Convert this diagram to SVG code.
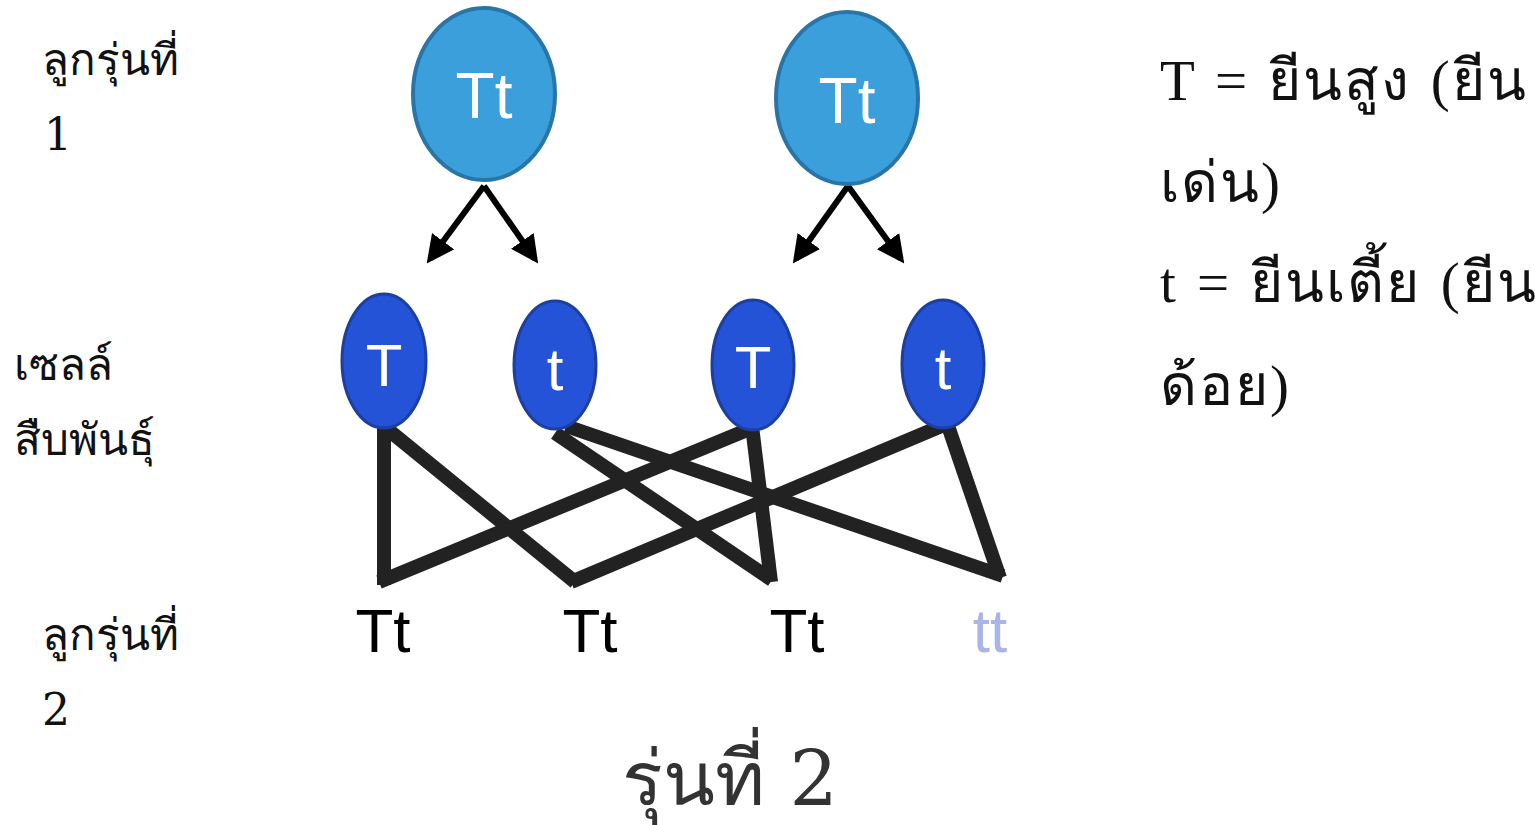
<svg xmlns="http://www.w3.org/2000/svg" width="1540" height="825" viewBox="0 0 1540 825">
<defs>
<style>
.parent{fill:#3a9fdb;stroke:#2a75a8;stroke-width:4}
.gamete{fill:#2453d8;stroke:#1d3fa0;stroke-width:3}
.wt{fill:#ffffff;font-family:"Liberation Sans",Arial,sans-serif;text-anchor:middle}
.lab{font-family:"DejaVu Serif","Liberation Serif",serif;font-size:44px;fill:#111}
.leg{font-family:"Liberation Serif","DejaVu Serif",serif;font-size:57px;fill:#111;letter-spacing:2px;word-spacing:3px}
.off{font-family:"Liberation Sans",Arial,sans-serif;font-size:62px;text-anchor:middle}
.arr{stroke:#000;stroke-width:6;fill:none}
.cross{stroke:#222;stroke-width:14;fill:none;stroke-linecap:butt}
</style>
<marker id="ah" viewBox="0 0 10 10" refX="8" refY="5" markerWidth="4.6" markerHeight="4.6" orient="auto" markerUnits="strokeWidth">
<path d="M0,0 L10,5 L0,10 z" fill="#000"/>
</marker>
</defs>
<rect width="1540" height="825" fill="#ffffff"/>

<g id="labels">
<text class="lab" x="42" y="75">ลูกรุ่นที่</text>
<text class="lab" x="44" y="150" font-size="40">1</text>
<text class="lab" x="14" y="380">เซลล์</text>
<text class="lab" x="14" y="455">สืบพันธุ์</text>
<text class="lab" x="42" y="650">ลูกรุ่นที่</text>
<text class="lab" x="42" y="725" font-size="40">2</text>
</g>

<g id="legend">
<text class="leg" x="1160" y="100">T = ยีนสูง (ยีน</text>
<text class="leg" x="1160" y="202">เด่น)</text>
<text class="leg" x="1160" y="302">t = ยีนเตี้ย (ยีน</text>
<text class="leg" x="1160" y="405">ด้อย)</text>
</g>

<g id="connectors">
<line class="arr" x1="484" y1="186" x2="430" y2="259" marker-end="url(#ah)"/>
<line class="arr" x1="484" y1="186" x2="535" y2="259" marker-end="url(#ah)"/>
<line class="arr" x1="848" y1="186" x2="796" y2="259" marker-end="url(#ah)"/>
<line class="arr" x1="848" y1="186" x2="901" y2="259" marker-end="url(#ah)"/>
<line class="cross" x1="384" y1="426" x2="384" y2="585"/>
<line class="cross" x1="386" y1="428" x2="575" y2="582"/>
<line class="cross" x1="379" y1="582" x2="752" y2="428"/>
<line class="cross" x1="752" y1="426" x2="771" y2="582"/>
<line class="cross" x1="555" y1="433" x2="772" y2="580"/>
<line class="cross" x1="566" y1="426" x2="1003" y2="576"/>
<line class="cross" x1="571" y1="582" x2="951" y2="422"/>
<line class="cross" x1="946" y1="420" x2="1000" y2="578"/>
</g>

<g id="parent1">
<ellipse class="parent" cx="484" cy="94" rx="71" ry="86"/>
<text class="wt" x="484" y="118" font-size="64">Tt</text>
</g>
<g id="parent2">
<ellipse class="parent" cx="847" cy="98" rx="71" ry="86"/>
<text class="wt" x="847" y="123" font-size="64">Tt</text>
</g>

<g id="gamete1">
<ellipse class="gamete" cx="384" cy="361" rx="42" ry="67"/>
<text class="wt" x="384" y="386" font-size="60">T</text>
</g>
<g id="gamete2">
<ellipse class="gamete" cx="555" cy="365" rx="41" ry="64"/>
<text class="wt" x="555" y="390" font-size="60">t</text>
</g>
<g id="gamete3">
<ellipse class="gamete" cx="753" cy="365" rx="41" ry="65"/>
<text class="wt" x="753" y="388" font-size="60">T</text>
</g>
<g id="gamete4">
<ellipse class="gamete" cx="943" cy="364" rx="41" ry="64"/>
<text class="wt" x="943" y="389" font-size="60">t</text>
</g>

<g id="offspring1"><text class="off" x="383" y="652" fill="#000">Tt</text></g>
<g id="offspring2"><text class="off" x="590" y="652" fill="#000">Tt</text></g>
<g id="offspring3"><text class="off" x="797" y="652" fill="#000">Tt</text></g>
<g id="offspring4"><text class="off" x="990" y="652" fill="#aab4e6">tt</text></g>

<g id="title">
<text x="730" y="805" font-family="'DejaVu Serif','Liberation Serif',serif" font-size="76" fill="#333" text-anchor="middle">รุ่นที่ 2</text>
</g>
</svg>
